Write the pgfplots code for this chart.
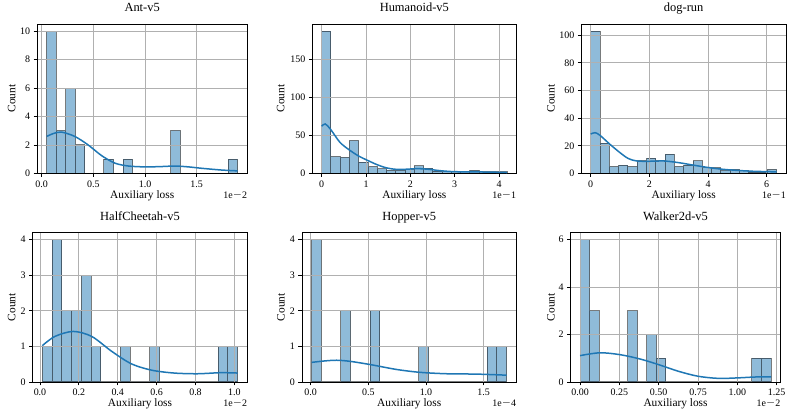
\documentclass[border=0pt]{standalone}
\usepackage{fontspec}
\setmainfont{Liberation Serif}
\usepackage{graphicx}
\usepackage{pgfplots}
\pgfplotsset{compat=1.18}

\definecolor{C0}{RGB}{31,119,180}
\definecolor{gridgray}{RGB}{176,176,176}

% offset exponent shown under the right end of each x axis
\newcommand{\expo}[1]{1e\hspace{0.6bp}\scalebox{1.45}[1]{−}\hspace{0.6bp}#1}

\pgfplotsset{
  histax/.style={
    scale only axis,
    anchor=south west,
    set layers=standard,
    ymin=0,
    axis line style={black, line width=0.8bp},
    tick align=outside,
    tick pos=left,
    major tick length=3.5bp,
    every tick/.style={black, line width=0.8bp},
    grid=major,
    major grid style={gridgray, line width=0.8bp},
    tick label style={font=\fontsize{10}{12}\selectfont},
    /pgf/number format/assume math mode=true,
    label style={font=\fontsize{11.4}{13}\selectfont},
    title style={font=\fontsize{12.5}{14}\selectfont,
      at={(axis description cs:0.5,1)}, anchor=base, yshift=6bp},
    xlabel={Auxiliary loss},
    ylabel={Count},
  },
  xlab/.style={xlabel style={at={(axis description cs:0.5,#1)}, anchor=base}},
  ylab/.style={ylabel style={at={(axis description cs:#1,0.5)}, anchor=base}},
  scalenote/.style 2 args={extra description/.code={
      \node[anchor=base east, inner sep=0pt, font=\fontsize{10}{12}\selectfont]
        at (axis description cs:1,#1) {\expo{#2}};}},
  bars/.style={ybar interval, fill=C0, fill opacity=0.5, draw=black,
    draw opacity=0.5, line width=1bp, on layer=axis background},
  kde/.style={C0, line width=1.5bp, smooth, no markers},
}

\begin{document}
\begin{tikzpicture}
\path (0bp,0bp) rectangle (792bp,416bp);

% ---------- Ant-v5 ----------
\begin{axis}[histax, at={(37.1bp,245.5bp)}, width=210.1bp, height=149.5bp,
  title={Ant-v5}, xlab=-0.166, ylab=-0.103, scalenote={-0.166}{2},
  xmin=-0.0445, xmax=1.989, ymax=10.5,
  xtick={0,0.5,1,1.5}, xticklabels={0.0,0.5,1.0,1.5},
  ytick={0,2,4,6,8,10}]
\addplot[bars] coordinates {
 (0.0480,10) (0.1405,3) (0.2329,6) (0.3254,2) (0.4178,0) (0.5103,0)
 (0.6027,1) (0.6952,0) (0.7876,1) (0.8801,0) (0.9725,0) (1.0650,0)
 (1.1574,0) (1.2499,3) (1.3423,0) (1.4348,0) (1.5272,0) (1.6197,0)
 (1.7121,0) (1.8046,1) (1.8970,1)};
\addplot[kde] coordinates {
 (0.048,2.60) (0.12,2.82) (0.194,2.90) (0.32,2.60) (0.45,2.00) (0.58,1.25)
 (0.71,0.72) (0.84,0.52) (1.00,0.46) (1.15,0.48) (1.29,0.52) (1.42,0.46)
 (1.55,0.36) (1.74,0.24) (1.897,0.18)};
\end{axis}

% ---------- Humanoid-v5 ----------
\begin{axis}[histax, at={(312.4bp,245.5bp)}, width=203.9bp, height=149.5bp,
  title={Humanoid-v5}, xlab=-0.166, ylab=-0.137, scalenote={-0.166}{1},
  xmin=-0.209, xmax=4.389, ymax=196.35,
  xtick={0,1,2,3,4}, xticklabels={0,1,2,3,4},
  ytick={0,50,100,150}]
\addplot[bars] coordinates {
 (0.000,187) (0.209,22) (0.418,21) (0.627,43) (0.836,15) (1.045,9)
 (1.254,6) (1.463,4) (1.672,4) (1.881,5) (2.090,10) (2.299,7)
 (2.508,3) (2.717,2) (2.926,2) (3.135,2) (3.344,4) (3.553,2)
 (3.762,2) (3.971,2) (4.180,2)};
\addplot[kde] coordinates {
 (0,62) (0.08,65) (0.2,58) (0.41,41) (0.62,31) (0.83,23) (1.04,17)
 (1.25,11.5) (1.45,7.5) (1.66,5.5) (1.9,5.5) (2.15,6.3) (2.4,5.5)
 (2.69,3.5) (3.0,2.3) (3.5,2.0) (3.9,1.6) (4.18,1.2)};
\end{axis}

% ---------- dog-run ----------
\begin{axis}[histax, at={(581.4bp,245.5bp)}, width=204.6bp, height=149.5bp,
  title={dog-run}, xlab=-0.166, ylab=-0.131, scalenote={-0.166}{1},
  xmin=-0.317, xmax=6.657, ymax=108.15,
  xtick={0,2,4,6}, xticklabels={0,2,4,6},
  ytick={0,20,40,60,80,100}]
\addplot[bars] coordinates {
 (0.000,103) (0.317,22) (0.634,5) (0.951,6) (1.268,5) (1.585,9)
 (1.902,11) (2.219,9) (2.536,14) (2.853,5) (3.170,6) (3.487,9)
 (3.804,4) (4.121,4) (4.438,2) (4.755,3) (5.072,2) (5.389,1)
 (5.706,1) (6.023,3) (6.340,3)};
\addplot[kde] coordinates {
 (0,28.5) (0.15,29.5) (0.32,27.5) (0.66,21) (1.0,15) (1.28,10.8)
 (1.57,9) (2.0,8.8) (2.5,9) (3.0,7.8) (3.5,6) (4.0,4.3) (4.5,3)
 (5.0,2.2) (5.5,1.6) (6.0,1.3) (6.34,1.1)};
\end{axis}

% ---------- HalfCheetah-v5 ----------
\begin{axis}[histax, at={(32.6bp,37bp)}, width=214.8bp, height=149.4bp,
  title={HalfCheetah-v5}, xlab=-0.166, ylab=-0.080, scalenote={-0.166}{2},
  xmin=-0.038, xmax=1.067, ymax=4.2,
  xtick={0,0.2,0.4,0.6,0.8,1}, xticklabels={0.0,0.2,0.4,0.6,0.8,1.0},
  ytick={0,1,2,3,4}]
\addplot[bars] coordinates {
 (0.0120,1) (0.0623,4) (0.1125,2) (0.1628,2) (0.2130,3) (0.2633,1)
 (0.3135,0) (0.3638,0) (0.4140,1) (0.4643,0) (0.5145,0) (0.5648,1)
 (0.6150,0) (0.6653,0) (0.7155,0) (0.7658,0) (0.8160,0) (0.8663,0)
 (0.9165,1) (0.9668,1) (1.0170,1)};
\addplot[kde] coordinates {
 (0.012,1.02) (0.077,1.28) (0.171,1.42) (0.266,1.28) (0.369,0.86)
 (0.47,0.51) (0.575,0.33) (0.69,0.25) (0.81,0.23) (0.93,0.26) (1.017,0.25)};
\end{axis}

% ---------- Hopper-v5 ----------
\begin{axis}[histax, at={(301.9bp,37bp)}, width=214.5bp, height=149.4bp,
  title={Hopper-v5}, xlab=-0.166, ylab=-0.081, scalenote={-0.166}{4},
  xmin=-0.076, xmax=1.784, ymax=4.2,
  xtick={0,0.5,1,1.5}, xticklabels={0.0,0.5,1.0,1.5},
  ytick={0,1,2,3,4}]
\addplot[bars] coordinates {
 (0.0087,4) (0.0932,0) (0.1777,0) (0.2623,2) (0.3468,0) (0.4313,0)
 (0.5158,2) (0.6003,0) (0.6849,0) (0.7694,0) (0.8539,0) (0.9384,1)
 (1.0229,0) (1.1075,0) (1.1920,0) (1.2765,0) (1.3610,0) (1.4455,0)
 (1.5301,1) (1.6146,1) (1.6991,1)};
\addplot[kde] coordinates {
 (0.0087,0.55) (0.12,0.59) (0.225,0.61) (0.34,0.58) (0.514,0.49)
 (0.746,0.35) (0.948,0.27) (1.18,0.23) (1.44,0.22) (1.699,0.19)};
\end{axis}

% ---------- Walker2d-v5 ----------
\begin{axis}[histax, at={(570.5bp,37bp)}, width=210.1bp, height=149.4bp,
  title={Walker2d-v5}, xlab=-0.166, ylab=-0.076, scalenote={-0.166}{2},
  xmin=-0.0607, xmax=1.275, ymax=6.3,
  xtick={0,0.25,0.5,0.75,1,1.25}, xticklabels={0.00,0.25,0.50,0.75,1.00,1.25},
  ytick={0,2,4,6}]
\addplot[bars] coordinates {
 (0.0000,6) (0.0607,3) (0.1214,0) (0.1821,0) (0.2428,0) (0.3035,3)
 (0.3642,0) (0.4249,2) (0.4856,1) (0.5463,0) (0.6070,0) (0.6677,0)
 (0.7284,0) (0.7891,0) (0.8498,0) (0.9105,0) (0.9712,0) (1.0319,0)
 (1.0926,1) (1.1533,1) (1.2140,1)};
\addplot[kde] coordinates {
 (0,1.11) (0.127,1.23) (0.254,1.15) (0.38,0.97) (0.50,0.73) (0.625,0.45)
 (0.75,0.24) (0.88,0.15) (1.0,0.17) (1.12,0.21) (1.214,0.21)};
\end{axis}
\end{tikzpicture}
\end{document}
